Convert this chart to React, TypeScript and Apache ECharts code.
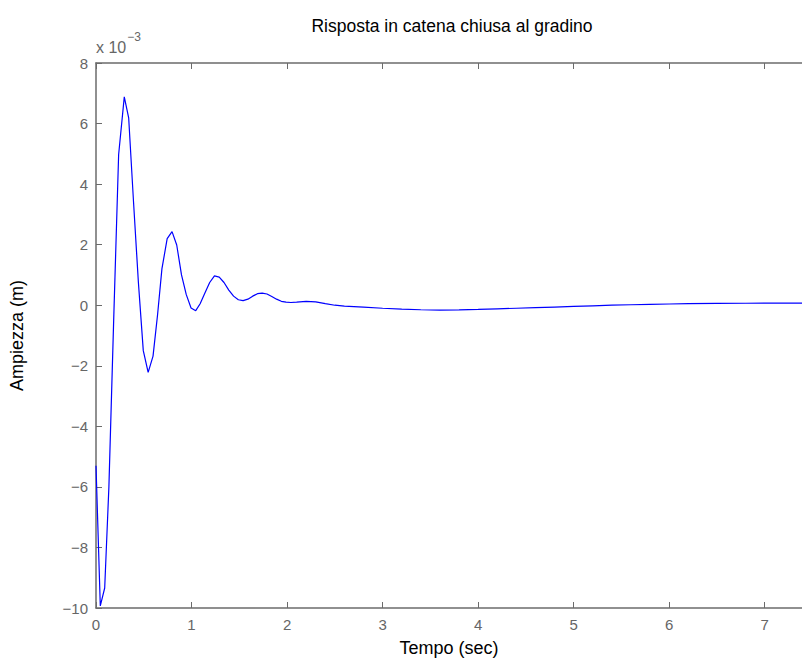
import React, { useEffect, useRef } from "react";
import * as echarts from "echarts";

// Closed-loop step response, time in seconds, amplitude in units of 1e-3 m
const tempo: number[] = [
  0, 0.045, 0.091, 0.135, 0.185, 0.237, 0.296, 0.342, 0.393, 0.444,
  0.495, 0.546, 0.597, 0.645, 0.69, 0.745, 0.796, 0.845, 0.895, 0.945,
  0.995, 1.044, 1.09, 1.14, 1.19, 1.24, 1.29, 1.34, 1.39, 1.44,
  1.49, 1.54, 1.59, 1.64, 1.69, 1.74, 1.79, 1.84, 1.89, 1.94,
  1.99, 2.04, 2.1, 2.2, 2.3, 2.4, 2.5, 2.6, 2.8, 3.0,
  3.2, 3.4, 3.6, 3.8, 4.0, 4.2, 4.4, 4.6, 4.8, 5.0,
  5.2, 5.4, 5.6, 5.8, 6.0, 6.2, 6.5, 6.8, 7.1, 7.39,
];
const ampiezza: number[] = [
  -5.3, -9.93, -9.34, -6.0, -0.5, 4.98, 6.88, 6.19, 3.4, 0.74,
  -1.5, -2.22, -1.68, -0.3, 1.2, 2.2, 2.43, 1.99, 1.0, 0.35,
  -0.09, -0.18, 0.05, 0.4, 0.75, 0.97, 0.93, 0.75, 0.5, 0.3,
  0.18, 0.15, 0.2, 0.3, 0.38, 0.4, 0.37, 0.29, 0.2, 0.13,
  0.1, 0.09, 0.1, 0.13, 0.11, 0.05, 0.0, -0.03, -0.06, -0.1,
  -0.13, -0.15, -0.16, -0.155, -0.14, -0.12, -0.1, -0.08, -0.06, -0.04,
  -0.02, 0.0, 0.015, 0.03, 0.04, 0.05, 0.06, 0.065, 0.07, 0.07,
];

const titolo = "Risposta in catena chiusa al gradino";
const etichettaX = "Tempo (sec)";
const etichettaY = "Ampiezza (m)";
const esponente = "−3";

const xMin = 0;
const xMax = 7.39;
const yMin = -10;
const yMax = 8;

const FONT = "'Liberation Sans', Arial, Helvetica, sans-serif";
const AXIS_GRAY = "#6b6b6b";
const LABEL_GRAY = "#666666";

export default function App() {
  const ref = useRef<HTMLDivElement>(null);

  useEffect(() => {
    if (!ref.current) return;
    const chart = echarts.init(ref.current, null, { renderer: "svg" });
    const minus = (v: number) => String(v).replace("-", "−");
    chart.setOption({
      animation: false,
      backgroundColor: "#ffffff",
      textStyle: { fontFamily: FONT },
      title: {
        text: titolo,
        left: 447,
        top: 12,
        textAlign: "center",
        textStyle: { fontFamily: FONT, fontSize: 17.5, fontWeight: "normal", color: "#000" },
      },
      grid: { left: 96, top: 63, right: 0, bottom: 51, containLabel: false },
      xAxis: [
        {
          type: "value",
          min: xMin,
          max: xMax,
          interval: 1,
          name: etichettaX,
          nameLocation: "middle",
          nameGap: 31,
          nameTextStyle: { fontFamily: FONT, fontSize: 18, color: "#000" },
          axisLine: { show: true, onZero: false, lineStyle: { color: AXIS_GRAY, width: 1.5 } },
          axisTick: { show: true, inside: true, length: 6, lineStyle: { color: AXIS_GRAY } },
          axisLabel: {
            color: LABEL_GRAY,
            fontSize: 15,
            fontFamily: FONT,
            margin: 9,
            showMaxLabel: false,
            formatter: (v: number) => minus(v),
          },
          splitLine: { show: false },
        },
        {
          type: "value",
          position: "top",
          min: xMin,
          max: xMax,
          interval: 1,
          axisLine: { show: true, onZero: false, lineStyle: { color: AXIS_GRAY, width: 1.5 } },
          axisTick: { show: true, inside: true, length: 6, lineStyle: { color: AXIS_GRAY } },
          axisLabel: { show: false },
          splitLine: { show: false },
        },
      ],
      yAxis: {
        type: "value",
        min: yMin,
        max: yMax,
        interval: 2,
        name: etichettaY,
        nameLocation: "middle",
        nameGap: 70,
        nameTextStyle: { fontFamily: FONT, fontSize: 18, color: "#000" },
        axisLine: { show: true, onZero: false, lineStyle: { color: AXIS_GRAY, width: 1.5 } },
        axisTick: { show: true, inside: true, length: 6, lineStyle: { color: AXIS_GRAY } },
        axisLabel: {
          color: LABEL_GRAY,
          fontSize: 15,
          fontFamily: FONT,
          margin: 8,
          formatter: (v: number) => minus(v),
        },
        splitLine: { show: false },
      },
      graphic: [
        {
          type: "text",
          left: 96,
          top: 31,
          style: {
            text: "{b|x 10}{s|" + esponente + "}",
            fill: LABEL_GRAY,
            rich: {
              b: { fontSize: 16, fontFamily: FONT, fill: LABEL_GRAY, padding: [8, 0, 0, 0] },
              s: { fontSize: 12, fontFamily: FONT, fill: LABEL_GRAY, verticalAlign: "top", padding: [0, 0, 5, 1] },
            },
          },
        },
      ],
      series: [
        {
          type: "line",
          xAxisIndex: 0,
          data: tempo.map((t, i) => [t, ampiezza[i]]),
          showSymbol: false,
          lineStyle: { color: "#0000ff", width: 1.2 },
          clip: true,
        },
      ],
    });
    return () => chart.dispose();
  }, []);

  return (
    <div
      ref={ref}
      style={{ position: "fixed", left: 0, top: 0, width: 802, height: 662, background: "#fff" }}
    />
  );
}
